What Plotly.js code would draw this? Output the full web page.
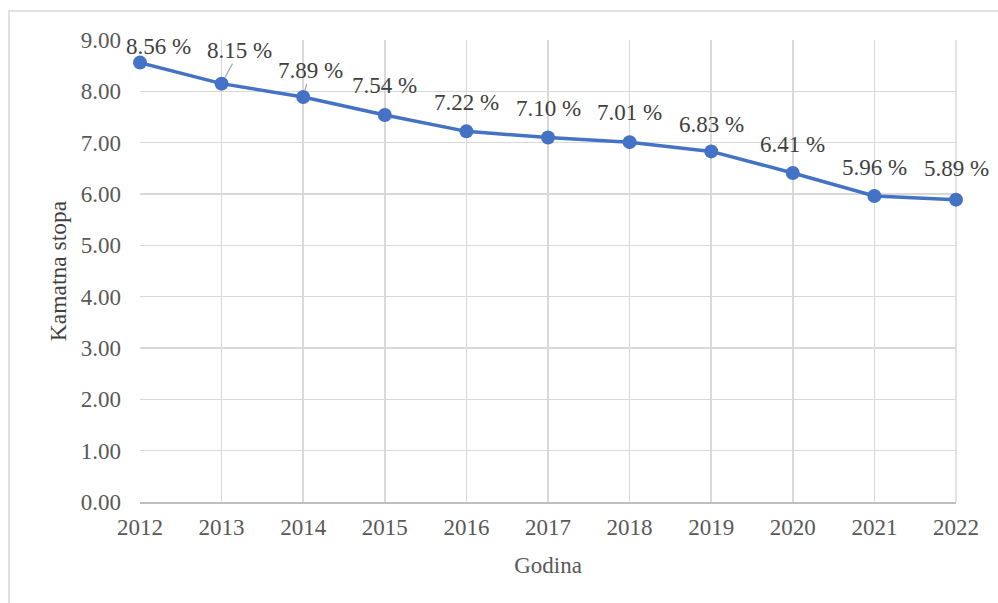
<!DOCTYPE html>
<html>
<head>
<meta charset="utf-8">
<script src="https://cdn.plot.ly/plotly-3.0.1.min.js"></script>
<style>html,body{margin:0;padding:0;background:#fff;}#chart{width:998px;height:603px;}</style>
</head>
<body>
<div id="chart"></div>
<script>
const years = [2012, 2013, 2014, 2015, 2016, 2017, 2018, 2019, 2020, 2021, 2022];
const rates = [8.56, 8.15, 7.89, 7.54, 7.22, 7.10, 7.01, 6.83, 6.41, 5.96, 5.89];
const labels = ["8.56 %", "8.15 %", "7.89 %", "7.54 %", "7.22 %", "7.10 %", "7.01 %", "6.83 %", "6.41 %", "5.96 %", "5.89 %"];
const labelDx = [18, 18, 7, 0, 0, 0, 0, 0, 0, 0, 0];
const labelDy = [-16, -33, -26, -29, -29, -29, -30, -27, -28, -29, -31];
const leader = [false, true, true, false, false, false, false, false, false, false, false];

const font = "Liberation Serif";
const annotations = years.map((y, i) => ({
  x: y, y: rates[i], xref: 'x', yref: 'y',
  text: labels[i],
  showarrow: true,
  ax: labelDx[i], ay: labelDy[i],
  arrowhead: 0, arrowwidth: 1.2,
  arrowcolor: leader[i] ? '#a6a6a6' : 'rgba(0,0,0,0)',
  standoff: 7, borderpad: 0,
  font: {family: font, size: 23, color: '#404040'}
}));

const trace = {
  x: years, y: rates, type: 'scatter', mode: 'lines+markers',
  line: {color: '#4472C4', width: 3.5},
  marker: {color: '#4472C4', size: 14},
  cliponaxis: false,
  hoverinfo: 'skip'
};

const layout = {
  width: 998, height: 603,
  margin: {l: 140, r: 42, t: 40, b: 101},
  paper_bgcolor: '#fff', plot_bgcolor: '#fff',
  showlegend: false,
  font: {family: font, size: 23, color: '#595959'},
  xaxis: {
    range: [2012, 2022], tickvals: years, ticktext: years.map(String),
    showgrid: true, gridcolor: '#d9d9d9', gridwidth: 1.5,
    showline: true, linecolor: '#bfbfbf', linewidth: 1.5,
    zeroline: false, ticks: '', ticklabelstandoff: 4,
    tickfont: {family: font, size: 23, color: '#595959'},
    title: {text: 'Godina', font: {family: font, size: 23, color: '#595959'}, standoff: 18}
  },
  yaxis: {
    range: [0, 9], dtick: 1, tick0: 0, tickformat: '.2f',
    showgrid: true, gridcolor: '#d9d9d9', gridwidth: 1.5,
    zeroline: false, showline: false, ticks: '', ticklabelstandoff: 18,
    tickfont: {family: font, size: 23, color: '#595959'},
    title: {text: 'Kamatna stopa', font: {family: font, size: 23.5, color: '#404040'}, standoff: 7}
  },
  annotations: annotations,
  shapes: [
    {type: 'rect', xref: 'paper', yref: 'paper',
     x0: (9 - 140) / 816, x1: (1010 - 140) / 816,
     y0: (502 - 620) / 462, y1: (502 - 11) / 462,
     line: {color: '#d9d9d9', width: 1.5}, fillcolor: 'rgba(0,0,0,0)', layer: 'below'},
    {type: 'line', xref: 'paper', yref: 'paper', x0: 1, x1: 1, y0: 0, y1: 1,
     line: {color: '#d9d9d9', width: 1.5}, layer: 'below'}
  ]
};

Plotly.newPlot('chart', [trace], layout, {displayModeBar: false, staticPlot: true});
</script>
</body>
</html>
